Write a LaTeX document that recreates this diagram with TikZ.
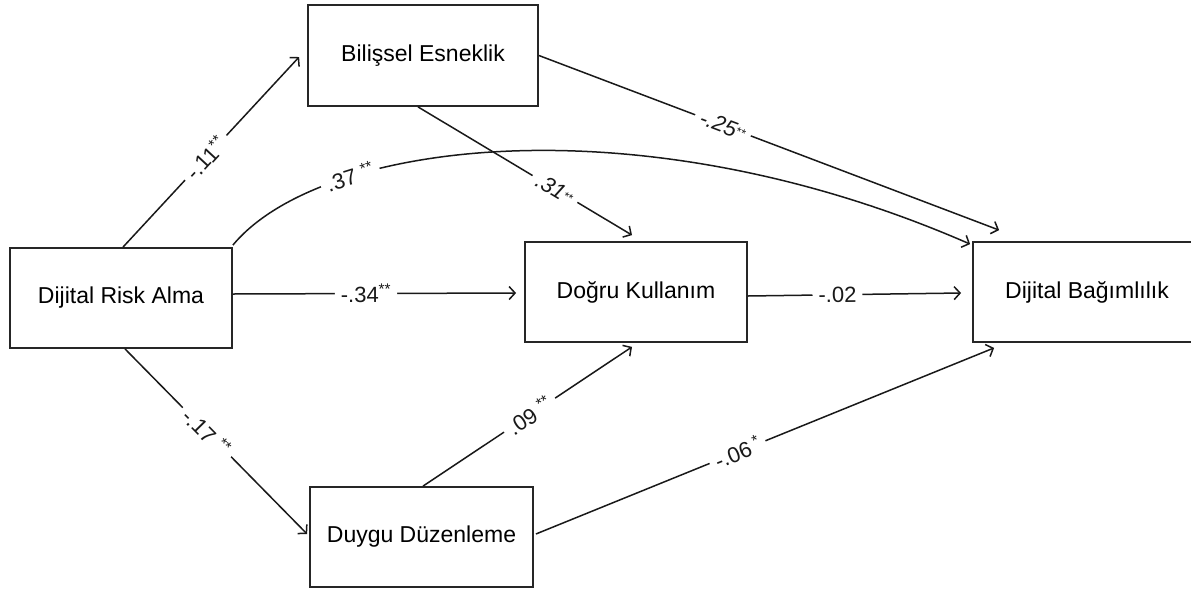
\documentclass[tikz,border=0pt]{standalone}
\usepackage{fontspec}
\setmainfont{Liberation Sans}
\usetikzlibrary{arrows.meta}
\begin{document}
\begin{tikzpicture}[x=1pt,y=-1pt,
  box/.style={draw=black!85, line width=1.8pt, minimum width=#1, minimum height=100pt, inner sep=0pt, font=\fontsize{23}{27}\selectfont},
  conn/.style={draw=black!90, line width=1.5pt, -{Straight Barb[length=6pt,width=13pt,line width=1.5pt]}},
  lab/.style={fill=white, inner xsep=6pt, inner ysep=0pt, sloped, font=\fontsize{22}{26}\selectfont, text=black!90}]
\useasboundingbox (0,0) rectangle (1191,592);
\node[box=222pt] (dra) at (121,298) {Dijital Risk Alma};
\node[box=230pt, minimum height=101pt] (be) at (423,55.5) {\raisebox{-4pt}{Bilişsel Esneklik}};
\node[box=222pt] (dk) at (636,292) {Doğru Kullanım};
\node[box=228pt] (db) at (1087,292) {Dijital Bağımlılık};
\node[box=223pt] (dd) at (421.5,537) {Duygu Düzenleme};
% connectors
\draw[conn] ([xshift=2pt]dra.north) -- node[lab, pos=0.47] {-.11\textsuperscript{**}} ([xshift=-8pt,yshift=-1.5pt]be.west);
\draw[conn] ([yshift=2pt]dra.north east) .. controls (320,140) and (640,100) .. node[lab, pos=0.27] {.37 \textsuperscript{**}} ([xshift=-2pt,yshift=-3pt]db.north west);
\draw[conn] ([yshift=4pt]dra.east) -- node[lab, pos=0.47] {-.34\textsuperscript{**}} ([xshift=-8pt,yshift=-1pt]dk.west);
\draw[conn] ([xshift=-5pt]be.south) -- node[lab, pos=0.64] {\itshape .31{\fontsize{12}{12}\selectfont\raisebox{3pt}{**}}} ([xshift=-4pt,yshift=6pt]dk.north);
\draw[conn] (be.east) -- node[lab, pos=0.40] {\itshape -.25{\fontsize{12}{12}\selectfont\raisebox{3pt}{**}}} ([xshift=27pt,yshift=11pt]db.north west);
\draw[conn] ([yshift=-4pt]dk.east) -- node[lab, pos=0.42] {-.02} ([xshift=-11pt,yshift=-1pt]db.west);
\draw[conn] ([xshift=4pt]dra.south) -- node[lab, pos=0.45] {-.17 \textsuperscript{**}} ([xshift=-2pt,yshift=3pt]dd.west);
\draw[conn] ([xshift=1.5pt]dd.north) -- node[lab, pos=0.51] {.09 \textsuperscript{**}} ([xshift=-4pt,yshift=-4pt]dk.south);
\draw[conn] ([xshift=2pt,yshift=3pt]dd.east) -- node[lab, pos=0.44] {-.06\,\textsuperscript{*}} ([xshift=22pt,yshift=-5pt]db.south west);
\end{tikzpicture}
\end{document}
